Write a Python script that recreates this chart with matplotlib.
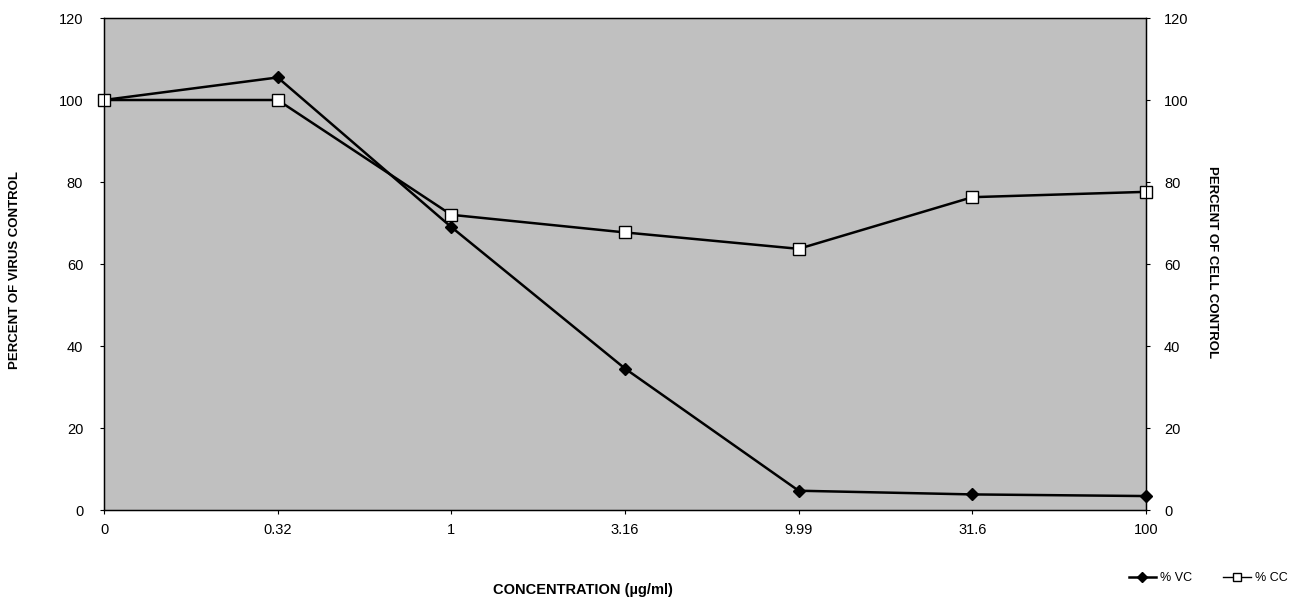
import matplotlib
matplotlib.use("Agg")
import matplotlib.pyplot as plt
from matplotlib.lines import Line2D

plt.rcParams['font.family'] = ['Liberation Sans', 'DejaVu Sans']

concentrations = ["0", "0.32", "1", "3.16", "9.99", "31.6", "100"]
pct_vc = [100, 105.5, 69, 34.5, 4.7, 3.8, 3.4]
pct_cc = [100, 100, 72, 67.7, 63.7, 76.3, 77.6]
y_ticks = [0, 20, 40, 60, 80, 100, 120]

W, H = 1293, 611
fig = plt.figure(figsize=(W / 100, H / 100), dpi=100)
ax = fig.add_axes([104 / W, (H - 510) / H, (1146 - 104) / W, (510 - 18) / H])
ax.set_facecolor('#c0c0c0')

x = list(range(len(concentrations)))
ax.plot(x, pct_vc, color='black', lw=1.8, marker='D', ms=6,
        mfc='black', mec='black', zorder=3, clip_on=False)
ax.plot(x, pct_cc, color='black', lw=1.8, marker='s', ms=9,
        mfc='white', mec='black', mew=1.0, zorder=4, clip_on=False)

ax.set_xlim(0, len(concentrations) - 1)
ax.set_ylim(0, 120)
ax.set_xticks(x)
ax.set_xticklabels(concentrations, fontsize=10.5)
ax.set_yticks(y_ticks)
ax.set_yticklabels([str(v) for v in y_ticks], fontsize=10.5)
ax.tick_params(axis='y', length=3, pad=12)
ax.tick_params(axis='x', length=3, pad=6)
for s in ax.spines.values():
    s.set_linewidth(1.0)

ax2 = ax.twinx()
ax2.set_ylim(0, 120)
ax2.set_yticks(y_ticks)
ax2.set_yticklabels([str(v) for v in y_ticks], fontsize=10.5)
ax2.tick_params(axis='y', length=3, pad=10)

fig.text(15 / W, (H - 270) / H, "PERCENT OF VIRUS CONTROL", rotation=90,
         ha='center', va='center', fontsize=9.5, fontweight='bold')
fig.text(1212 / W, (H - 262) / H, "PERCENT OF CELL CONTROL", rotation=-90,
         ha='center', va='center', fontsize=9.5, fontweight='bold')
fig.text(583 / W, (H - 590) / H, "CONCENTRATION (µg/ml)",
         ha='center', va='center', fontsize=10.5, fontweight='bold')

handles = [
    Line2D([], [], color='black', lw=1.8, marker='D', ms=5, mfc='black'),
    Line2D([], [], color='black', lw=1.0, marker='s', ms=6, mfc='white', mec='black'),
]
fig.legend(handles, ["% VC", "% CC"], ncol=2, frameon=False,
           loc='center', bbox_to_anchor=(1208 / W, (H - 578) / H),
           fontsize=9, handlelength=2.2, columnspacing=2.5, handletextpad=0.3)

fig.savefig("out.png", dpi=100)
